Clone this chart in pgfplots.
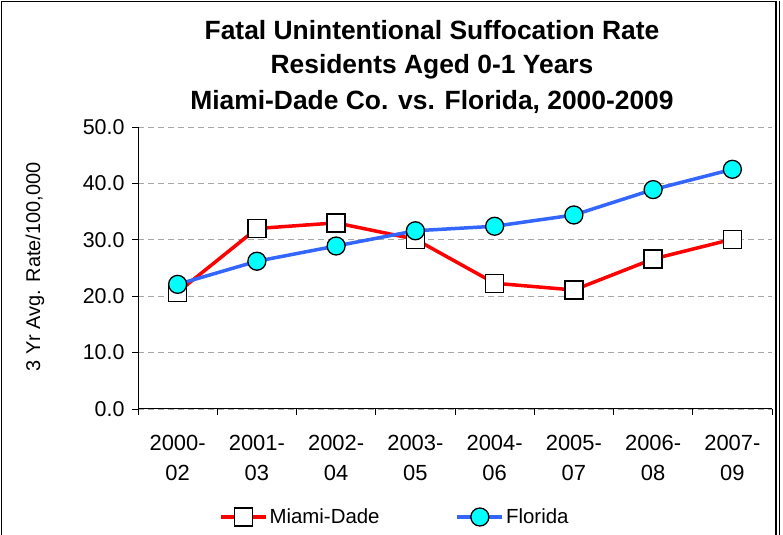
\documentclass[border=0pt]{standalone}
\usepackage{fontspec}
\setmainfont{Liberation Sans}
\usepackage{pgfplots}
\pgfplotsset{compat=1.18}
\definecolor{mdred}{RGB}{255,0,0}
\definecolor{flblue}{RGB}{51,102,255}
\definecolor{flcyan}{RGB}{0,255,255}
\begin{document}
\begin{tikzpicture}[x=1bp,y=1bp]
\path[use as bounding box] (0,0) rectangle (783,535);
\draw[black,line width=1.2bp] (1.5,0) -- (1.5,533.5) -- (776,533.5) -- (776,0);
\draw[black,line width=0.8bp] (779,0) -- (779,533.5);
\node[font=\fontsize{26.5}{30}\selectfont\bfseries] at (432,505) {Fatal Unintentional Suffocation Rate};
\node[font=\fontsize{26.5}{30}\selectfont\bfseries] at (432,468) {Residents Aged 0-1 Years};
\node[font=\fontsize{26.5}{30}\selectfont\bfseries] at (432,433) {Miami-Dade Co. vs. Florida, 2000-2009};
\node[rotate=90,font=\fontsize{20}{24}\selectfont] at (35,268) {3 Yr Avg. Rate/100,000};
\begin{axis}[
  at={(138bp,126bp)}, anchor=south west,
  scale only axis, width=634bp, height=282bp,
  xmin=0.5, xmax=8.5, ymin=0, ymax=50,
  axis x line*=bottom, axis y line*=left,
  axis line style={black, line width=1bp, -},
  xtick={1,...,8},
  xticklabels={{2000-\\02},{2001-\\03},{2002-\\04},{2003-\\05},{2004-\\06},{2005-\\07},{2006-\\08},{2007-\\09}},
  xticklabel style={align=center, font=\fontsize{22}{30}\selectfont, yshift=-17bp},
  major x tick style={draw=none},
  minor xtick={0.5,1.5,...,8.5},
  minor x tick style={black, line width=0.8bp},
  minor tick length=6bp,
  tick align=outside,
  ytick={0,10,...,50},
  ytick style={black, line width=0.8bp},
  major tick length=6bp,
  yticklabel style={font=\fontsize{21.5}{24}\selectfont, xshift=-4bp, /pgf/number format/.cd, fixed, fixed zerofill, precision=1, assume math mode=true},
  ymajorgrids,
  grid style={gray!70, dashed, line width=0.8bp, dash pattern=on 6bp off 4bp},
  clip=false,
  legend columns=2,
  legend style={at={(0.405,-0.383)}, anchor=center, draw=none, fill=none, font=\fontsize{20.5}{24}\selectfont, /tikz/every even column/.append style={column sep=74bp}},
  legend image code/.code={\draw[#1] (0bp,0bp) -- (45bp,0bp); \draw[#1, only marks] plot coordinates {(22.5bp,0bp)};},
]
\addplot[mdred, line width=3.5bp, mark=square*, mark size=9bp, mark options={fill=white, draw=black, line width=1.3bp, solid}]
coordinates {(1,20.7) (2,32.0) (3,33.0) (4,30.1) (5,22.3) (6,21.1) (7,26.6) (8,30.1)};
\addlegendentry{Miami-Dade}
\addplot[flblue, line width=3.5bp, mark=*, mark size=9bp, mark options={fill=flcyan, draw=black, line width=1.3bp, solid}]
coordinates {(1,22.1) (2,26.2) (3,28.9) (4,31.6) (5,32.4) (6,34.4) (7,38.9) (8,42.5)};
\addlegendentry{Florida}
\end{axis}
\end{tikzpicture}
\end{document}
